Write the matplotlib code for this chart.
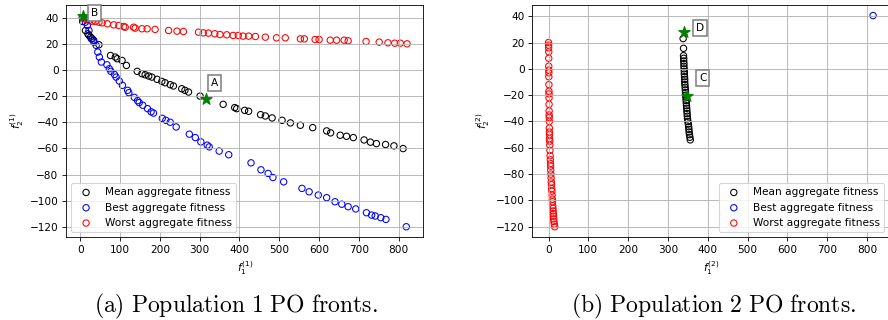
import matplotlib

matplotlib.use("Agg")
import matplotlib.pyplot as plt

# Population 1 fronts
p1_mean_f1 = [6, 13, 19, 22, 26, 30, 34, 47, 76, 88, 93, 105, 116, 143, 155, 163, 172, 180, 193, 205,
              213, 226, 234, 255, 263, 272, 301, 359, 388, 393, 413, 423, 453, 465, 482, 507, 528, 553, 584, 619,
              629, 653, 669, 686, 713, 729, 744, 767, 788, 811]
p1_mean_f2 = [37, 30.1, 27.6, 26.3, 25, 23.8, 22.5, 19.2, 11, 9.8, 8.5, 7.2, 3.4, -1.1, -2.9, -3.7, -4.7, -5.5, -7.2, -8.8,
              -9.8, -11.3, -12.3, -14.4, -15.6, -16.9, -20, -26.3, -28.8, -29.6, -30.9, -31.6, -34.2, -35.2, -36.7, -38.5,
              -40.5, -42.3, -44.1, -46.6, -48.1, -49.9, -50.7, -51.7, -53.5, -55.2, -56.3, -57, -58, -60.1]
p1_best_f1 = [5, 13, 18, 22, 28, 34, 40, 44, 48, 53, 67, 73, 77, 86, 90, 98, 106, 119, 122, 136,
              144, 148, 157, 169, 178, 184, 206, 215, 226, 241, 274, 289, 303, 319, 324, 349, 373, 429, 454, 472,
              484, 511, 557, 575, 598, 619, 640, 657, 673, 692, 719, 732, 741, 755, 768, 819]
p1_best_f2 = [40, 36.4, 33.9, 30.1, 23.7, 21.2, 18.7, 13.6, 9.8, 6, 3.9, 0.9, -1.1, -3.5, -5.5, -8.5, -11.8, -15.6, -17.4, -21,
              -23.5, -25, -27, -29.6, -32, -33, -37, -38.5, -40, -43.6, -49.1, -51.7, -55, -57.5, -58.8, -62, -64.8, -71,
              -76.3, -79.1, -82.2, -85.5, -90.5, -93.1, -95.6, -97.6, -100.7, -102.6, -104.5, -106.2, -109.1, -110.9,
              -111.6, -112.9, -114.2, -119.8]
p1_worst_f1 = [8, 14, 22, 30, 38, 47, 55, 68, 84, 97, 109, 113, 134, 138, 155, 168, 188, 222, 243, 259,
               297, 309, 322, 338, 351, 368, 384, 397, 409, 423, 440, 465, 493, 515, 553, 563, 590, 600, 628, 644,
               663, 673, 718, 751, 773, 790, 804, 821]
p1_worst_f2 = [39.5, 38.5, 37.7, 37.2, 37, 36.4, 35.9, 35.2, 34.4, 33.9, 33.1, 32.6, 32.6, 31.9, 31.4, 31.4, 30.9, 30.1,
               29.6, 29.3, 28.8, 28.3, 28.1, 27.6, 27.0, 26.8, 26.3, 26.3, 25.8, 25.8, 25.5, 25, 24.5, 24.5, 23.7, 23.7,
               23.2, 23.2, 22.7, 22.7, 22.7, 22.2, 21.7, 21.2, 20.7, 20.4, 20.4, 19.9]

# Population 2 fronts
p2_mean_f1 = [338, 339, 339, 339.5, 339.5, 340, 340, 340.5, 341, 341, 341.5, 342, 342, 342.5, 343, 343.5, 344, 344.5,
              345, 345.5, 346, 346.5, 347, 347.5, 348, 348.5, 349, 350, 351, 352, 352.5, 353, 354, 355, 356]
p2_mean_f2 = [23, 15.6, 10, 8, 6, 4, 2, 0, -2, -4, -6, -8, -10, -12, -14, -16, -18, -20,
              -22, -24, -26, -28, -30, -32, -34, -36, -38, -40, -42, -44, -46, -48, -50, -52, -54]
p2_best_f1 = [815]
p2_best_f2 = [40.5]
p2_worst_f1 = [0, 0.3, 0.3, 0.5, 0.5, 0.6, 0.6, 0.8, 0.8, 1, 1, 1.2, 1.2, 1.3, 1.5, 1.5, 1.8, 2, 2, 2.2, 2.5, 2.5,
               3, 3.2, 3.5, 4, 4.5, 5, 5.3, 5.5, 6, 6.5, 7, 7.5, 8, 8.5, 9, 9.5, 10, 10.5, 11, 11.5, 12, 12.5, 13,
               13.5, 14.5, 15.5]
p2_worst_f2 = [20, 18, 16, 13, 8, 2, -1, -3, -6, -12, -17, -19, -22, -27, -32, -35, -37, -40, -45, -48, -50, -53,
               -55, -58, -62, -66, -69, -72, -74, -77, -80, -83, -86, -88, -91, -93, -96, -99, -101, -104, -106,
               -108, -110, -112, -114, -116, -118, -120]

# Highlighted solutions (label, f1, f2, label_f1, label_f2)
p1_marks = [("A", 317, -22.5, 337, -9.8), ("B", 7, 41.5, 36, 43.6)]
p2_marks = [("D", 340, 27.8, 380, 30.9), ("C", 346.5, -20.4, 387, -7.2)]

captions = ["(a) Population 1 PO fronts.", "(b) Population 2 PO fronts."]

DPI = 76
fig = plt.figure(figsize=(888 / DPI, 320 / DPI), dpi=DPI)

ax1 = fig.add_axes([66 / 888, 82.7 / 320, 357.3 / 888, 232.3 / 320])
ax2 = fig.add_axes([532.3 / 888, 82.7 / 320, 357 / 888, 232.3 / 320])

panels = [
    (ax1, p1_mean_f1, p1_mean_f2, p1_best_f1, p1_best_f2, p1_worst_f1, p1_worst_f2, p1_marks, "1", "lower left"),
    (ax2, p2_mean_f1, p2_mean_f2, p2_best_f1, p2_best_f2, p2_worst_f1, p2_worst_f2, p2_marks, "2", "lower right"),
]

for ax, mx, my, bx, by, wx, wy, marks, pop, loc in panels:
    ax.scatter(mx, my, facecolors="none", edgecolors="black", label="Mean aggregate fitness")
    ax.scatter(bx, by, facecolors="none", edgecolors="blue", label="Best aggregate fitness")
    ax.scatter(wx, wy, facecolors="none", edgecolors="red", label="Worst aggregate fitness")

    # Selected solutions
    for name, fx, fy, tx, ty in marks:
        ax.scatter([fx], [fy], marker="*", s=130, color="green", zorder=3)
        ax.text(tx, ty, name, ha="center", va="center", zorder=4,
                bbox=dict(boxstyle="square,pad=0.3", fc="white", ec="grey", lw=1.5))

    ax.set_xlabel(rf"$f_1^{{({pop})}}$")
    ax.set_ylabel(rf"$f_2^{{({pop})}}$")
    ax.set_xticks(range(0, 801, 100))
    ax.set_yticks(range(-120, 41, 20))
    ax.grid(True)
    ax.legend(loc=loc)

# Sub-figure captions
for cx, text in zip([236 / 888, 714 / 888], captions):
    fig.text(cx, 1 - 306 / 320, r"$\mathrm{" + text.replace(" ", r"\ ") + "}$",
             ha="center", va="center", fontsize=22.4, math_fontfamily="cm")

fig.savefig("out.png", dpi=DPI)
